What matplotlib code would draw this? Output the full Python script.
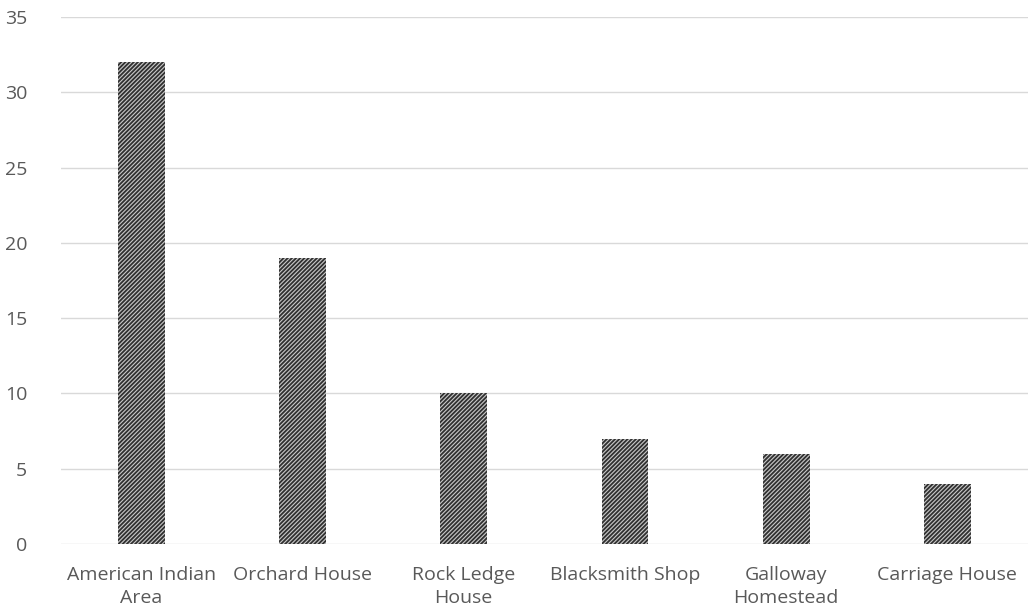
import matplotlib.pyplot as plt
import numpy as np

categories = ['American Indian\nArea', 'Orchard House', 'Rock Ledge\nHouse',
              'Blacksmith Shop', 'Galloway\nHomestead', 'Carriage House']
values = [32, 19, 10, 7, 6, 4]

plt.rcParams['font.family'] = ['Open Sans', 'DejaVu Sans']
plt.rcParams['hatch.linewidth'] = 1.3
plt.rcParams['hatch.color'] = '#303030'

fig = plt.figure(figsize=(10.28, 6.16), dpi=100)
ax = fig.add_axes([0.059, 0.117, 0.941, 0.855])

x = np.arange(len(categories))
ax.bar(x, values, width=0.29, color='#c8c8c8', edgecolor='#303030',
       linewidth=0, hatch='////////', zorder=2)

ax.set_xlim(-0.5, len(categories) - 0.5)
ax.set_ylim(0, 35)
ax.set_yticks(range(0, 36, 5))
ax.set_xticks(x)
ax.set_xticklabels(categories)
ax.grid(axis='y', color='#d9d9d9', linewidth=1, zorder=0)
for s in ax.spines.values():
    s.set_visible(False)
ax.tick_params(length=0, labelsize=14, colors='#595959', pad=16)
ax.tick_params(axis='y', pad=24)
for lbl in ax.get_xticklabels():
    lbl.set_linespacing(1.35)

fig.savefig('out.png', dpi=100)
